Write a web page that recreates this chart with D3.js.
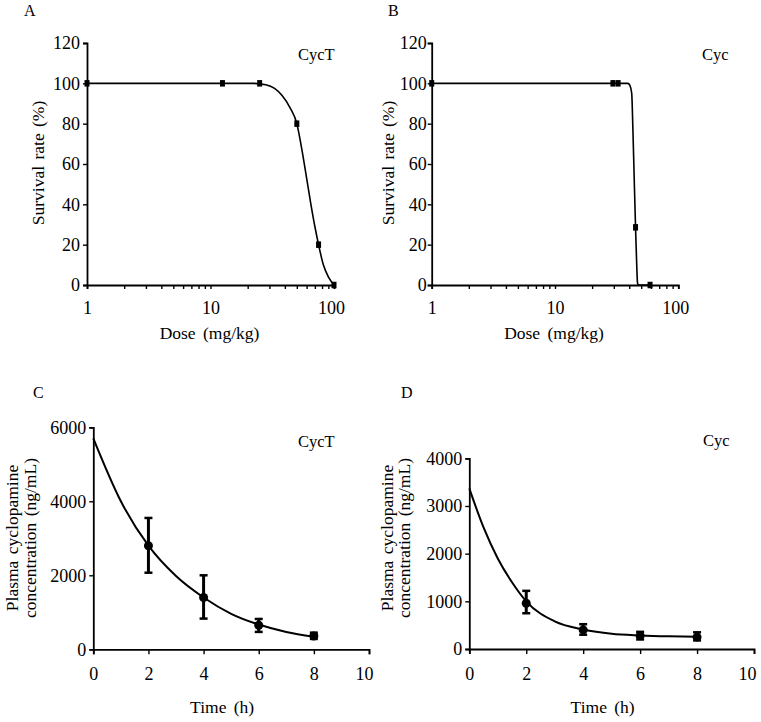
<!DOCTYPE html>
<html>
<head>
<meta charset="utf-8">
<script src="https://cdn.jsdelivr.net/npm/d3@7"></script>
<style>
  html, body { margin: 0; padding: 0; background: #fff; }
  svg text { font-family: "Liberation Serif", "Times New Roman", serif; fill: #000; }
</style>
</head>
<body>
<svg id="chart" width="761" height="722"></svg>
<script>
// ---------------- DATA ----------------
// Panel A: CycT acute toxicity (survival vs dose)
const doseA = [1, 12.5, 25, 50, 75, 100];
const survA = [100, 100, 100, 80, 20, 0];
const fitDoseA = [1, 22, 28, 33, 38, 44, 50, 55, 60, 65, 70, 75, 82, 90, 100];
const fitSurvA = [100, 100, 99.3, 97.5, 94, 88, 80, 67, 53, 40, 29, 20, 10, 4, 0];

// Panel B: Cyc acute toxicity
const doseB = [1, 29.5, 32.5, 45, 59];
const survB = [100, 100, 100, 28.6, 0];
const fitDoseB = [1, 39, 40.5, 41.9, 42.8, 43.8, 45, 46, 46.7, 47.5, 59];
const fitSurvB = [100, 100, 99, 95, 78, 55, 28.6, 10, 1, 0, 0];

// Panel C: CycT plasma concentration
const timeC = [2, 4, 6, 8];
const meanC = [2800, 1400, 650, 360];
const lowC  = [2070, 830, 470, 280];
const highC = [3550, 2000, 820, 450];
const fitTimeC = [0, 1, 2, 3, 4, 5, 6, 7, 8];
const fitConcC = [5700, 4000, 2800, 1980, 1400, 960, 670, 470, 340];

// Panel D: Cyc plasma concentration
const timeD = [2, 4, 6, 8];
const meanD = [960, 400, 280, 250];
const lowD  = [750, 300, 200, 180];
const highD = [1220, 520, 360, 350];
const fitTimeD = [0, 0.5, 1, 1.5, 2, 3, 4, 5, 6, 7, 8];
const fitConcD = [3370, 2550, 1900, 1400, 1000, 580, 410, 320, 285, 265, 255];

// Tick values / labels
const survTicks = [0, 20, 40, 60, 80, 100, 120];
const doseMajor = [1, 10, 100];
const timeTicks = [0, 2, 4, 6, 8, 10];
const concTicksC = [0, 2000, 4000, 6000];
const concTicksD = [0, 1000, 2000, 3000, 4000];

const panelLetters = ["A", "B", "C", "D"];
const seriesNames = ["CycT", "Cyc", "CycT", "Cyc"];
const survLabel = "Survival rate (%)";
const doseLabel = "Dose (mg/kg)";
const concLabel1 = "Plasma cyclopamine";
const concLabel2 = "concentration (ng/mL)";
const timeLabel = "Time (h)";

// ---------------- DRAW ----------------
const svg = d3.select("#chart");
const FS = 17.5;
const TFS = 18;
const fmt = d3.format("d");

function logMinorTicks() {
  const t = [];
  for (let d = 1; d <= 100; d *= 10) {
    for (let k = 1; k <= 9; k++) { const v = k * d; if (v <= 100) t.push(v); }
  }
  return t;
}

function styleAxis(g) {
  g.select(".domain").attr("stroke", "#000").attr("stroke-width", 1.8);
  g.selectAll(".tick line").attr("stroke", "#000").attr("stroke-width", 1.4);
  g.selectAll(".tick text").style("font-size", TFS + "px").attr("fill", "#000");
}

function survivalPanel(opt) {
  const x = d3.scaleLog().domain([1, 100]).range([opt.x0, opt.x1]);
  const y = d3.scaleLinear().domain([0, 120]).range([285, 43]);
  const g = svg.append("g");

  const xa = g.append("g").attr("transform", `translate(0,${y(0)})`)
    .call(d3.axisBottom(x).tickValues(logMinorTicks()).tickSize(4).tickPadding(12)
      .tickFormat(d => doseMajor.includes(d) ? fmt(d) : ""))
    .call(styleAxis);
  xa.selectAll(".tick text").filter(d => d === 100).attr("dx", -3);

  g.append("g").attr("transform", `translate(${opt.x0},0)`)
    .call(d3.axisLeft(y).tickValues(survTicks).tickSize(4).tickPadding(opt.ypad).tickFormat(fmt))
    .call(styleAxis);

  const pts = opt.fitDose.map((d, i) => [d, opt.fitSurv[i]]);
  g.append("path").datum(pts)
    .attr("fill", "none").attr("stroke", "#000").attr("stroke-width", 1.6)
    .attr("d", d3.line().x(d => x(d[0])).y(d => y(d[1])).curve(d3.curveMonotoneX));

  g.selectAll("rect.pt").data(opt.dose.map((d, i) => [d, opt.surv[i]])).join("rect")
    .attr("x", d => x(d[0]) - 2.5).attr("y", d => y(d[1]) - 3.25)
    .attr("width", 5).attr("height", 6.5).attr("fill", "#000");

  g.append("text").attr("x", opt.letterX).attr("y", 16).style("font-size", "16px").text(opt.letter);
  g.append("text").attr("x", opt.nameX).attr("y", 60).style("font-size", "16.5px").text(opt.name);
  g.append("text").attr("x", (opt.x0 + opt.x1) / 2 - 1).attr("y", 339)
    .attr("text-anchor", "middle").style("font-size", FS + "px").style("word-spacing", "3px").text(doseLabel);
  g.append("text").attr("transform", `translate(${opt.ylabX},163) rotate(-90)`)
    .attr("text-anchor", "middle").attr("dominant-baseline", "central")
    .style("font-size", FS + "px").style("word-spacing", "2px").text(survLabel);
}

function concPanel(opt) {
  const x = d3.scaleLinear().domain([0, 10]).range([opt.x0, opt.x1]);
  const y = d3.scaleLinear().domain([0, opt.ymax]).range([opt.yb, opt.yt]);
  const g = svg.append("g");

  const xa = g.append("g").attr("transform", `translate(0,${opt.yb})`)
    .call(d3.axisBottom(x).tickValues(timeTicks).tickSize(5).tickPadding(13).tickFormat(fmt))
    .call(styleAxis);
  xa.selectAll(".tick text").filter(d => d === 10).attr("dx", opt.lastDx);
  g.append("g").attr("transform", `translate(${opt.x0},0)`)
    .call(d3.axisLeft(y).tickValues(opt.ticks).tickSize(4).tickPadding(3).tickFormat(fmt))
    .call(styleAxis);

  const pts = opt.fitT.map((t, i) => [t, opt.fitC[i]]);
  g.append("path").datum(pts)
    .attr("fill", "none").attr("stroke", "#000").attr("stroke-width", 2)
    .attr("d", d3.line().x(d => x(d[0])).y(d => y(d[1])).curve(d3.curveMonotoneX));

  const data = opt.t.map((t, i) => ({ t, m: opt.mean[i], lo: opt.low[i], hi: opt.high[i] }));
  const eb = g.selectAll("g.eb").data(data).join("g");
  eb.append("line").attr("x1", d => x(d.t)).attr("x2", d => x(d.t))
    .attr("y1", d => y(d.lo)).attr("y2", d => y(d.hi)).attr("stroke", "#000").attr("stroke-width", 3);
  eb.append("line").attr("x1", d => x(d.t) - 4).attr("x2", d => x(d.t) + 4)
    .attr("y1", d => y(d.lo)).attr("y2", d => y(d.lo)).attr("stroke", "#000").attr("stroke-width", 2.5);
  eb.append("line").attr("x1", d => x(d.t) - 4).attr("x2", d => x(d.t) + 4)
    .attr("y1", d => y(d.hi)).attr("y2", d => y(d.hi)).attr("stroke", "#000").attr("stroke-width", 2.5);
  eb.append("circle").attr("cx", d => x(d.t)).attr("cy", d => y(d.m)).attr("r", 4.5).attr("fill", "#000");

  g.append("text").attr("x", opt.letterX).attr("y", 398).style("font-size", "16px").text(opt.letter);
  g.append("text").attr("x", opt.nameX).attr("y", opt.nameY).style("font-size", "16.5px").text(opt.name);
  g.append("text").attr("x", (opt.x0 + opt.x1) / 2 - 9).attr("y", 713)
    .attr("text-anchor", "middle").style("font-size", FS + "px").style("word-spacing", "3px").text(timeLabel);
  g.append("text").attr("transform", `translate(${opt.ylabX1},538) rotate(-90)`)
    .attr("text-anchor", "middle").attr("dominant-baseline", "central")
    .style("font-size", FS + "px").style("word-spacing", "2px").text(concLabel1);
  g.append("text").attr("transform", `translate(${opt.ylabX2},538) rotate(-90)`)
    .attr("text-anchor", "middle").attr("dominant-baseline", "central")
    .style("font-size", FS + "px").style("word-spacing", "2px").text(concLabel2);
}

survivalPanel({ x0: 87, x1: 334, ypad: 3, dose: doseA, surv: survA, fitDose: fitDoseA, fitSurv: fitSurvA,
  letter: panelLetters[0], letterX: 24, name: seriesNames[0], nameX: 298, ylabX: 37.5 });
survivalPanel({ x0: 431.7, x1: 678.3, ypad: 1, dose: doseB, surv: survB, fitDose: fitDoseB, fitSurv: fitSurvB,
  letter: panelLetters[1], letterX: 388, name: seriesNames[1], nameX: 702, ylabX: 388 });

concPanel({ x0: 93.3, x1: 369, yb: 649.3, yt: 427.3, ymax: 6000, ticks: concTicksC,
  t: timeC, mean: meanC, low: lowC, high: highC, fitT: fitTimeC, fitC: fitConcC, lastDx: -5,
  letter: panelLetters[2], letterX: 33, name: seriesNames[2], nameX: 298, nameY: 447, ylabX1: 12, ylabX2: 30 });
concPanel({ x0: 469.3, x1: 754, yb: 649, yt: 458.3, ymax: 4000, ticks: concTicksD,
  t: timeD, mean: meanD, low: lowD, high: highD, fitT: fitTimeD, fitC: fitConcD, lastDx: -7,
  letter: panelLetters[3], letterX: 401, name: seriesNames[3], nameX: 703, nameY: 446, ylabX1: 387, ylabX2: 404 });
</script>
</body>
</html>
